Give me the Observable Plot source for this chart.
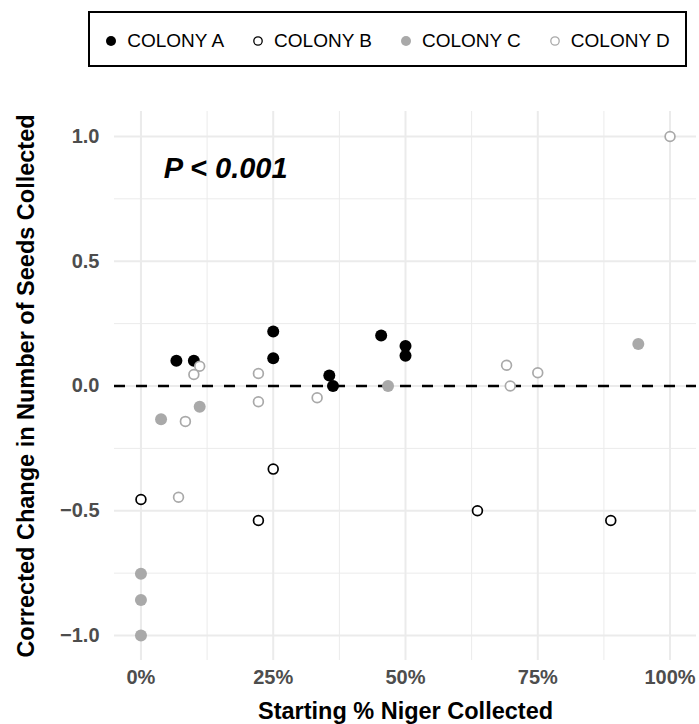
<!DOCTYPE html>
<html><head><meta charset="utf-8">
<script src="https://cdn.jsdelivr.net/npm/d3@7"></script>
<script src="https://cdn.jsdelivr.net/npm/@observablehq/plot@0.6"></script>
<style>
body{margin:0;background:#fff;}
#chart{width:699px;height:724px;position:relative;font-family:"Liberation Sans",Arial,Helvetica,sans-serif;}
#legendArea{height:90px;position:relative;}
#legend{position:absolute;left:88px;top:11px;width:599px;height:56px;box-sizing:border-box;border:2px solid #000;display:flex;align-items:center;justify-content:center;gap:28px;font-size:19px;padding-top:3px;color:#000;}
.item{display:flex;align-items:center;white-space:nowrap;}
.item svg{margin-right:10px;display:block;}
#plot svg{display:block;}
</style></head><body>
<div id="chart"><div id="legendArea"><div id="legend"></div></div><div id="plot"></div></div>
<script>
// ---- data ----
const colonies = ["COLONY A", "COLONY B", "COLONY C", "COLONY D"];
const colonyA_x = [6.7, 10.0, 25, 25, 35.6, 36.3, 45.4, 50, 50];
const colonyA_y = [0.101, 0.101, 0.218, 0.111, 0.042, 0.0, 0.202, 0.160, 0.121];
const colonyB_x = [0, 25, 22.2, 63.6, 88.8];
const colonyB_y = [-0.455, -0.333, -0.539, -0.500, -0.539];
const colonyC_x = [46.7, 11.1, 3.8, 0, 0, 0, 94.0];
const colonyC_y = [0.0, -0.083, -0.133, -0.752, -0.858, -1.0, 0.168];
const colonyD_x = [11.1, 10.0, 22.2, 22.2, 33.3, 8.4, 7.1, 100, 69.1, 75, 69.8];
const colonyD_y = [0.079, 0.046, 0.050, -0.063, -0.047, -0.142, -0.446, 1.0, 0.083, 0.053, 0.0];
const xTicks = [0, 25, 50, 75, 100];
const xMinor = [12.5, 37.5, 62.5, 87.5];
const yTicks = [-1, -0.5, 0, 0.5, 1];
const yMinor = [-0.75, -0.25, 0.25, 0.75];
const xTitle = "Starting % Niger Collected";
const yTitle = "Corrected Change in Number of Seeds Collected";
const pLabel = {text: "P < 0.001", x: 4.3, y: 0.834};

const seriesX = [colonyA_x, colonyB_x, colonyC_x, colonyD_x];
const seriesY = [colonyA_y, colonyB_y, colonyC_y, colonyD_y];

// ---- styles ----
const styles = {
  "COLONY A": {fill: "#000", stroke: "none", r: 6, sw: 0, lr: 5},
  "COLONY B": {fill: "#fff", stroke: "#000", r: 4.9, sw: 1.7, lr: 4.2},
  "COLONY C": {fill: "#a9a9a9", stroke: "none", r: 6, sw: 0, lr: 5},
  "COLONY D": {fill: "#fff", stroke: "#a9a9a9", r: 4.9, sw: 1.7, lr: 4.2}
};

const FONT = "'Liberation Sans', Arial, Helvetica, sans-serif";

// ---- legend ----
const legend = d3.select("#legend");
colonies.forEach(c => {
  const s = styles[c];
  const item = legend.append("div").attr("class", "item");
  const svg = item.append("svg").attr("width", 12).attr("height", 12);
  svg.append("circle").attr("cx", 6).attr("cy", 6).attr("r", s.lr)
    .attr("fill", s.fill).attr("stroke", s.stroke).attr("stroke-width", s.sw ? 1.3 : 0);
  item.append("span").text(c);
});

// ---- plot ----
const dotMarks = colonies.map((c, i) => {
  const s = styles[c];
  const rows = seriesX[i].map((x, j) => ({x, y: seriesY[i][j], colony: c}));
  return Plot.dot(rows, {x: "x", y: "y", r: s.r, fill: s.fill, stroke: s.stroke, strokeWidth: s.sw});
});

const chart = Plot.plot({
  width: 699,
  height: 634,
  marginTop: 21,
  marginBottom: 64,
  marginLeft: 114,
  marginRight: 3,
  style: {fontFamily: FONT, background: "#fff"},
  x: {domain: [-5, 105]},
  y: {domain: [-1.1, 1.1]},
  marks: [
    Plot.ruleX(xMinor, {stroke: "#ebebeb", strokeWidth: 1}),
    Plot.ruleY(yMinor, {stroke: "#ebebeb", strokeWidth: 1}),
    Plot.ruleX(xTicks, {stroke: "#ebebeb", strokeWidth: 2}),
    Plot.ruleY(yTicks, {stroke: "#ebebeb", strokeWidth: 2}),
    Plot.ruleY([0], {stroke: "#000", strokeWidth: 2.7, strokeDasharray: "11,11"}),
    ...dotMarks,
    Plot.axisX({ticks: xTicks, tickFormat: d => d + "%", tickSize: 0, tickPadding: 9,
      fontSize: 20, fontWeight: "bold", fill: "#4d4d4d", label: null}),
    Plot.axisY({ticks: yTicks, tickFormat: d3.format(".1f"), tickSize: 0, tickPadding: 15,
      fontSize: 20, fontWeight: "bold", fill: "#4d4d4d", label: null}),
    Plot.text([xTitle], {frameAnchor: "bottom", lineAnchor: "bottom", dy: 58,
      fontSize: 23.5, fontWeight: "bold", fill: "#000"}),
    Plot.text([yTitle], {frameAnchor: "left", textAnchor: "middle", lineAnchor: "bottom", rotate: -90, dx: -80.7,
      fontSize: 23.5, fontWeight: "bold", fill: "#000"}),
    Plot.text([pLabel], {x: "x", y: "y", text: "text", textAnchor: "start", lineAnchor: "bottom",
      fontSize: 29, fontWeight: "bold", fontStyle: "italic", fill: "#000"})
  ]
});
document.getElementById("plot").appendChild(chart);
</script>
</body></html>
